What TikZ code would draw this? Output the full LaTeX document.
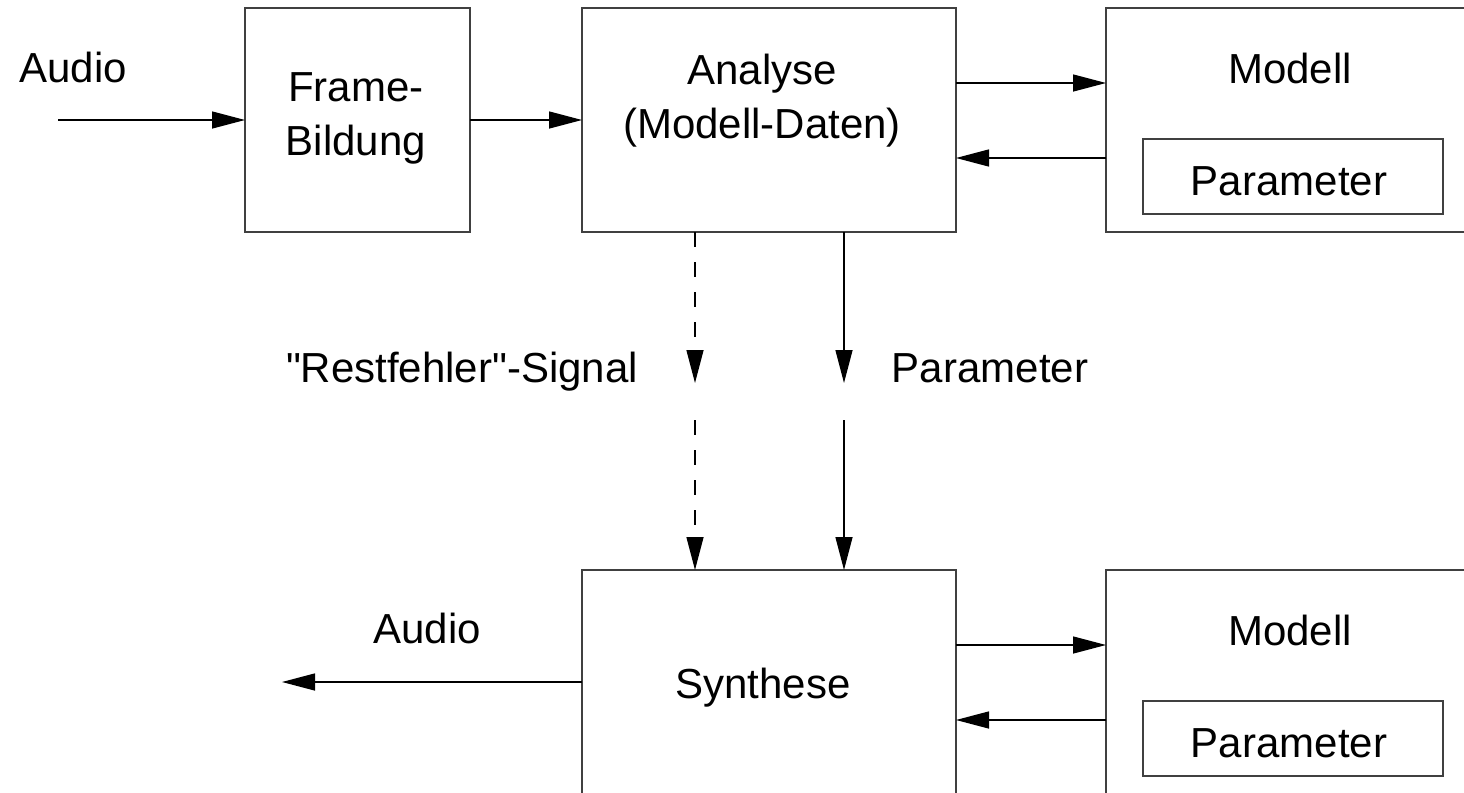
\documentclass[tikz,border=0pt]{standalone}
\usepackage{fontspec}
% plain family: keeps the straight double quote as typed
\newfontfamily\labelfont{Liberation Sans}
\usetikzlibrary{arrows.meta,calc}

\tikzset{
  box/.style={draw=black!75, line width=0.75pt, rectangle, inner sep=0pt,
              outer sep=0pt, anchor=north west,
              minimum width=187pt, minimum height=112pt},
  parbox/.style={box, minimum width=150pt, minimum height=37.5pt},
  txt/.style={inner sep=0pt, anchor=base, align=center,
              font=\labelfont\fontsize{21}{27}\selectfont},
  arr/.style={line width=0.7pt, -{Triangle[length=16.5pt,width=8.5pt]}},
  dashline/.style={dash pattern=on 7.5pt off 7.5pt},
}

\begin{document}
\begin{tikzpicture}[x=0.5pt, y=-0.5pt]
  \clip (0,0) rectangle (1464,793);
  \fill[white] (0,0) rectangle (1464,793);

  % analysis chain
  \node[box, minimum width=112.5pt] (frame) at (245,8) {};
  \node[box] (ana)  at (582,8) {};
  \node[box] (mod1) at (1106,8) {};
  \node[parbox] (par1) at (1143,139) {};

  % synthesis side
  \node[box] (syn)  at (582,570) {};
  \node[box] (mod2) at (1106,570) {};
  \node[parbox] (par2) at (1143,701) {};

  % labels (base anchor = baseline of the last line)
  \node[txt] (tAudioIn)  at (73,82)   {Audio};
  \node[txt] (tFrame)    at (356,155) {Frame-\\Bildung};
  \node[txt] (tAna)      at (762,138) {Analyse\\(Modell-Daten)};
  \node[txt] (tMod1)     at (1290,83) {Modell};
  \node[txt] (tPar1)     at (1289,195) {Parameter};
  \node[txt] (tRest)     at (462,382) {"Restfehler"-Signal};
  \node[txt] (tParMid)   at (990,382) {Parameter};
  \node[txt] (tAudioOut) at (427,643) {Audio};
  \node[txt] (tSyn)      at (763,698) {Synthese};
  \node[txt] (tMod2)     at (1290,645) {Modell};
  \node[txt] (tPar2)     at (1289,757) {Parameter};

  % free ends of connectors
  \coordinate (ain)   at (58,120);
  \coordinate (aout)  at (282,682);
  \coordinate (rtip)  at (695,383);
  \coordinate (rbeg)  at (695,420);
  \coordinate (ptip)  at (844,383);
  \coordinate (pbeg)  at (844,420);

  % top row
  \draw[arr] (ain) -- (frame.west);
  \draw[arr] (frame.east) -- (ana.west);
  \draw[arr] ($(ana.north east)+(0,75)$) -- ($(mod1.north west)+(0,75)$);
  \draw[arr] ($(mod1.north west)+(0,150)$) -- ($(ana.north east)+(0,150)$);

  % residual signal and parameters down to synthesis
  \draw[arr, dashline] (rtip |- ana.south) -- (rtip);
  \draw[arr, dashline] (rbeg) -- (rbeg |- syn.north);
  \draw[arr] (ptip |- ana.south) -- (ptip);
  \draw[arr] (pbeg) -- (pbeg |- syn.north);

  % bottom row
  \draw[arr] (syn.west) -- (aout);
  \draw[arr] ($(syn.north east)+(0,75)$) -- ($(mod2.north west)+(0,75)$);
  \draw[arr] ($(mod2.north west)+(0,150)$) -- ($(syn.north east)+(0,150)$);
\end{tikzpicture}
\end{document}
